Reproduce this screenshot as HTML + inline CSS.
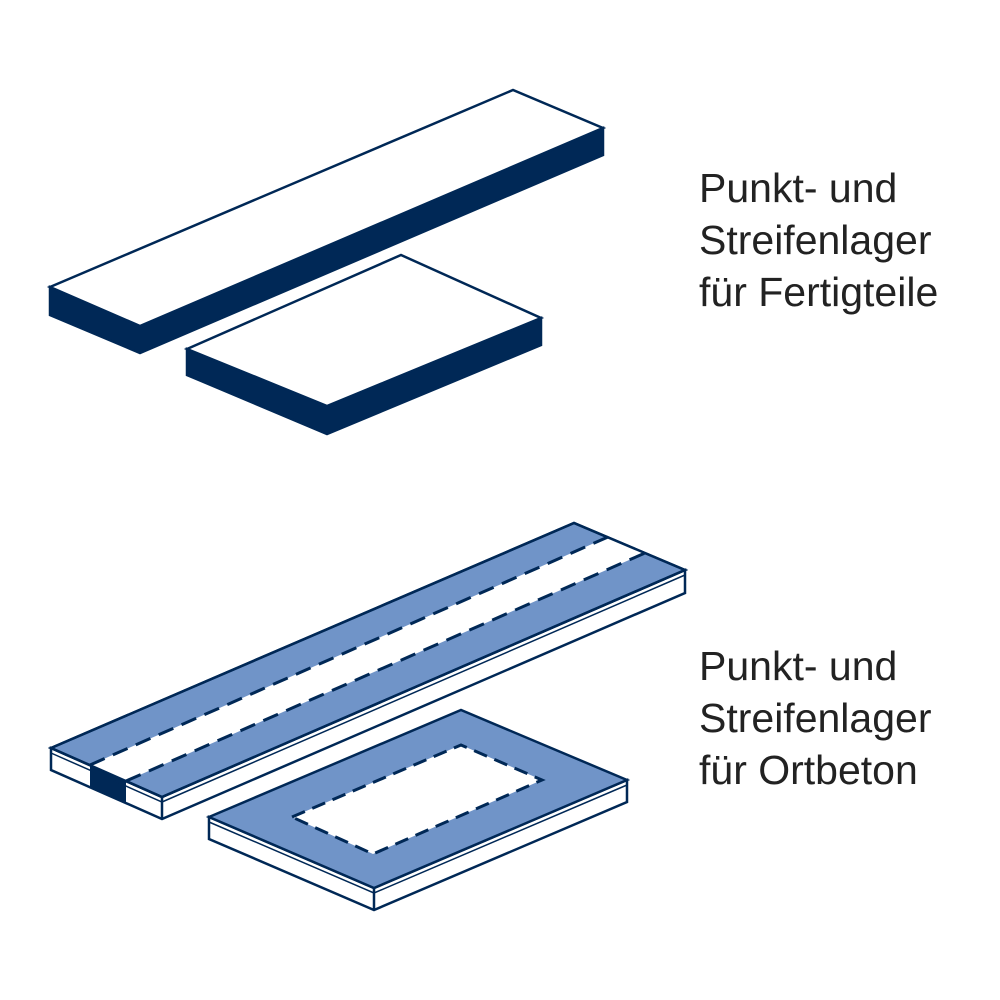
<!DOCTYPE html>
<html><head><style>
body{margin:0;background:#fff;width:1000px;height:1000px;overflow:hidden;position:relative}
.t{position:absolute;left:699px;font-family:"Liberation Sans",sans-serif;font-size:41px;line-height:52px;color:#222}
</style></head><body>
<svg width="1000" height="1000" style="position:absolute;left:0;top:0">
<g stroke="#002856" stroke-width="2.5" stroke-linejoin="miter">
<polygon points="50,287 140,326 603,128 603,155 140,353 50,315" fill="#002856"/>
<polygon points="50,287 513,90 603,128 140,326" fill="#fff"/>
<polygon points="187,349 327,406 541,318 541,345 327,434 187,375" fill="#002856"/>
<polygon points="187,349 401,255 541,318 327,406" fill="#fff"/>
<polygon points="51,748 162,797 685,570 685,593 162,819 51,770" fill="#fff"/>
<line x1="162" y1="797" x2="162" y2="819"/>
<polygon points="90,765 126,781 126,803 90,787" fill="#002856" stroke="none"/>
<polyline points="51,753 162,802 685,575" fill="none" stroke-width="1.5"/>
<polygon points="51,748 574,523 685,570 162,797" fill="#7094c8"/>
<polygon points="90,765 608,537 645,553 126,781" fill="#fff" stroke="none"/>
<line x1="90" y1="765" x2="608" y2="537" stroke-dasharray="16,9" stroke-width="3"/>
<line x1="126" y1="781" x2="645" y2="553" stroke-dasharray="16,9" stroke-width="3"/>
<polygon points="51,748 574,523 685,570 162,797" fill="none"/>
<polygon points="209,817 374,888 627,780 627,802 374,910 209,839" fill="#fff"/>
<line x1="374" y1="888" x2="374" y2="910"/>
<polyline points="209,822 374,893 627,785" fill="none" stroke-width="1.5"/>
<polygon points="209,817 461,710 627,780 374,888" fill="#7094c8"/>
<polygon points="292,817 461,745 542,780 373,854" fill="#fff" stroke-dasharray="14,8" stroke-width="3"/>
</g>
</svg>
<div class="t" style="top:162px">Punkt- und<br>Streifenlager<br>für Fertigteile</div>
<div class="t" style="top:640px">Punkt- und<br>Streifenlager<br>für Ortbeton</div>
</body></html>
